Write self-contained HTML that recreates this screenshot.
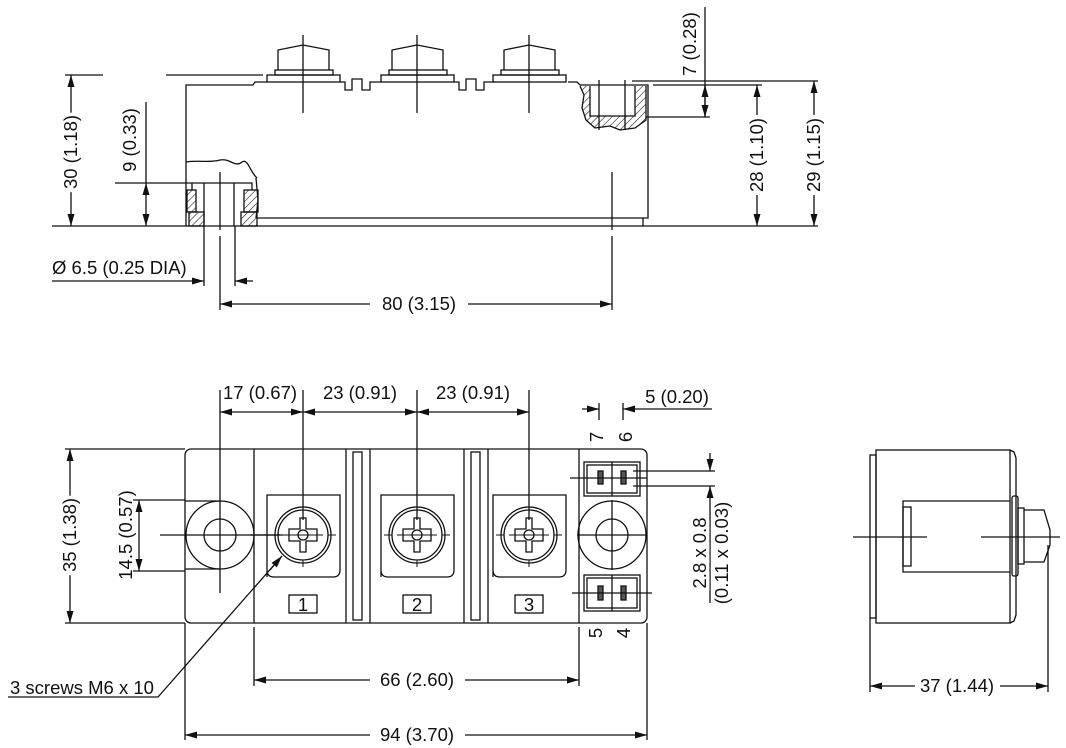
<!DOCTYPE html>
<html><head><meta charset="utf-8"><style>
html,body{margin:0;padding:0;background:#fff;}
svg{display:block;}
text{font-family:"Liberation Sans",sans-serif;font-size:18.5px;fill:#111;}
.w{paint-order:stroke;stroke:#fff;stroke-width:7px;}
</style></head><body>
<svg width="1066" height="748" viewBox="0 0 1066 748" xmlns="http://www.w3.org/2000/svg">
<defs>
<marker id="a" markerWidth="12" markerHeight="7" refX="12" refY="3.5" orient="auto" markerUnits="userSpaceOnUse">
<path d="M0,0 L12,3.5 L0,7 z" fill="#111"/></marker>
<pattern id="h" width="5" height="5" patternUnits="userSpaceOnUse" patternTransform="rotate(45)">
<line x1="0" y1="0" x2="0" y2="5" stroke="#222" stroke-width="1.2"/></pattern>
</defs>
<g stroke="#111" stroke-width="1.3" fill="none">

<path d="M186,226 L186,85 L253,85 L255,82 L267,82"/>
<path d="M340,82 L345,82 L345,90 L352,90 L352,79 L362,79 L362,90 L370,90 L370,82 L381,82"/>
<path d="M454,82 L459,82 L459,90 L466,90 L466,79 L476,79 L476,90 L484,90 L484,82 L495,82"/>
<path d="M568,82 L577,82 L580,85 L648,85 L648,218 L643,218 L643,226"/>
<line x1="257" y1="218" x2="643" y2="218"/>
<g id="term">
<path d="M278,70 L278,50 L303,45 L329,50 L329,70"/>
<rect x="275" y="70" width="58" height="5"/>
<rect x="267" y="75" width="73" height="7"/>
</g>
<use href="#term" x="114"/>
<use href="#term" x="226"/>
<line x1="303" y1="35" x2="303" y2="113"/>
<line x1="417" y1="35" x2="417" y2="113"/>
<line x1="529" y1="35" x2="529" y2="113"/>
<path d="M186,162 C200,160 210,163 220,160 C230,158 235,168 242,162 C248,158 250,172 257,178" />
<rect x="187" y="190" width="9" height="22" fill="url(#h)"/>
<rect x="189" y="212" width="15" height="14" fill="url(#h)"/>
<rect x="244" y="190" width="14" height="22" fill="url(#h)"/>
<rect x="241" y="212" width="16" height="14" fill="url(#h)"/>
<path d="M192,183 L252,183 L252,190 M192,183 L192,190"/>
<line x1="204" y1="183" x2="204" y2="226"/>
<line x1="234" y1="183" x2="234" y2="226"/>
<path d="M256,178 L258,200 L256,218" />
<path d="M580,86 L584,95 L582,108 L586,120 L595,128 L610,126 L620,130 L635,128 L646,120 L646,86" fill="url(#h)"/>
<rect x="590" y="86" width="45" height="30" fill="#fff" stroke="none"/>
<path d="M590,86 L590,116 L635,116 L635,86"/>
<line x1="599" y1="80" x2="599" y2="130"/>
<line x1="625" y1="80" x2="625" y2="130"/>
<line x1="52" y1="226" x2="818" y2="226"/>
<line x1="65" y1="75" x2="103" y2="75"/>
<line x1="166" y1="75" x2="263" y2="75"/>
<line x1="71" y1="140" x2="71" y2="75" marker-end="url(#a)"/>
<line x1="71" y1="165" x2="71" y2="226" marker-end="url(#a)"/>
<line x1="146" y1="102" x2="146" y2="183"/>
<line x1="115" y1="183" x2="192" y2="183"/>
<line x1="146" y1="205" x2="146" y2="183" marker-end="url(#a)"/>
<line x1="146" y1="205" x2="146" y2="226" marker-end="url(#a)"/>
<path d="M220,172 L220,230 M220,236 L220,246"/>
<path d="M612,172 L612,230 M612,236 L612,246"/>
<line x1="204" y1="226" x2="204" y2="286"/>
<line x1="235" y1="226" x2="235" y2="286"/>
<line x1="52" y1="281" x2="204" y2="281" marker-end="url(#a)"/>
<line x1="253" y1="281" x2="235" y2="281" marker-end="url(#a)"/>
<line x1="220" y1="246" x2="220" y2="310"/>
<line x1="612" y1="246" x2="612" y2="310"/>
<line x1="370" y1="304" x2="220" y2="304" marker-end="url(#a)"/>
<line x1="468" y1="304" x2="612" y2="304" marker-end="url(#a)"/>
<line x1="632" y1="81" x2="818" y2="81"/>
<line x1="653" y1="85" x2="762" y2="85"/>
<line x1="646" y1="117" x2="710" y2="117"/>
<line x1="705" y1="7" x2="705" y2="117"/>
<line x1="705" y1="101" x2="705" y2="85" marker-end="url(#a)"/>
<line x1="705" y1="101" x2="705" y2="117" marker-end="url(#a)"/>
<line x1="757" y1="115" x2="757" y2="85" marker-end="url(#a)"/>
<line x1="757" y1="195" x2="757" y2="226" marker-end="url(#a)"/>
<line x1="814" y1="115" x2="814" y2="81" marker-end="url(#a)"/>
<line x1="814" y1="195" x2="814" y2="226" marker-end="url(#a)"/>

<rect x="185" y="449" width="462" height="174" rx="6"/>
<line x1="254" y1="449" x2="254" y2="623"/>
<line x1="346" y1="449" x2="346" y2="623"/>
<rect x="353" y="452" width="9" height="168"/>
<line x1="370" y1="449" x2="370" y2="623"/>
<line x1="464" y1="449" x2="464" y2="623"/>
<rect x="471" y="452" width="9" height="168"/>
<line x1="488" y1="449" x2="488" y2="623"/>
<line x1="579" y1="449" x2="579" y2="623"/>
<circle cx="220" cy="535" r="34"/>
<circle cx="220" cy="535" r="16"/>
<line x1="220" y1="405" x2="220" y2="593"/>
<line x1="160" y1="535" x2="280" y2="535"/>
<line x1="133" y1="500" x2="185" y2="500"/>
<line x1="133" y1="571" x2="185" y2="571"/>
<line x1="185" y1="501" x2="220" y2="501"/>
<line x1="185" y1="569" x2="220" y2="569"/>
<g id="scr">
<path d="M267,577 L267,495 L340,495 L340,570 Q340,577 333,577 L274,577 Q267,577 267,570"/>
<circle cx="303" cy="535" r="28"/>
<circle cx="303" cy="535" r="25"/>
<path d="M300,518 L306,518 L306,529 L317,529 L317,541 L306,541 L306,552 L300,552 L300,541 L289,541 L289,529 L300,529 Z"/>
<circle cx="303" cy="535" r="5"/>
<path d="M270,535 L278,535 M283,535 L323,535 M328,535 L336,535 M303,503 L303,510 M303,560 L303,567" stroke-width="1"/>
<rect x="289" y="595" width="28" height="18"/>
</g>
<use href="#scr" x="114"/>
<use href="#scr" x="226"/>
<line x1="303" y1="405" x2="303" y2="520"/>
<line x1="417" y1="405" x2="417" y2="520"/>
<line x1="529" y1="405" x2="529" y2="520"/>
<line x1="250" y1="535" x2="283" y2="535"/>
<circle cx="612" cy="535" r="34"/>
<circle cx="612" cy="535" r="16"/>
<line x1="612" y1="500" x2="612" y2="570"/>
<line x1="577" y1="535" x2="647" y2="535"/>
<rect x="584" y="462" width="56" height="34"/>
<line x1="612" y1="462" x2="612" y2="496"/>
<rect x="587" y="465" width="50" height="28"/>
<rect x="584" y="575" width="56" height="36"/>
<line x1="612" y1="575" x2="612" y2="611"/>
<rect x="587" y="578" width="50" height="30"/>
<rect x="598" y="471" width="5" height="13" fill="#555"/>
<rect x="621" y="471" width="5" height="13" fill="#555"/>
<rect x="598" y="586" width="5" height="14" fill="#555"/>
<rect x="621" y="586" width="5" height="14" fill="#555"/>
<line x1="570" y1="478" x2="647" y2="478"/>
<line x1="572" y1="593" x2="652" y2="593"/>
<line x1="220" y1="390" x2="220" y2="405"/>
<line x1="303" y1="390" x2="303" y2="405"/>
<line x1="417" y1="390" x2="417" y2="405"/>
<line x1="529" y1="390" x2="529" y2="405"/>
<line x1="262" y1="412" x2="220" y2="412" marker-end="url(#a)"/>
<line x1="262" y1="412" x2="303" y2="412" marker-end="url(#a)"/>
<line x1="360" y1="412" x2="303" y2="412" marker-end="url(#a)"/>
<line x1="360" y1="412" x2="417" y2="412" marker-end="url(#a)"/>
<line x1="473" y1="412" x2="417" y2="412" marker-end="url(#a)"/>
<line x1="473" y1="412" x2="529" y2="412" marker-end="url(#a)"/>
<line x1="599" y1="403" x2="599" y2="420"/>
<line x1="623" y1="403" x2="623" y2="420"/>
<line x1="582" y1="409" x2="599" y2="409" marker-end="url(#a)"/>
<line x1="712" y1="409" x2="623" y2="409" marker-end="url(#a)"/>
<line x1="633" y1="471" x2="715" y2="471"/>
<line x1="633" y1="486" x2="715" y2="486"/>
<line x1="710" y1="453" x2="710" y2="471" marker-end="url(#a)"/>
<line x1="710" y1="603" x2="710" y2="486" marker-end="url(#a)"/>
<line x1="65" y1="449" x2="185" y2="449"/>
<line x1="65" y1="623" x2="185" y2="623"/>
<line x1="70" y1="500" x2="70" y2="449" marker-end="url(#a)"/>
<line x1="70" y1="570" x2="70" y2="623" marker-end="url(#a)"/>
<line x1="139" y1="535" x2="139" y2="500" marker-end="url(#a)"/>
<line x1="139" y1="535" x2="139" y2="571" marker-end="url(#a)"/>
<path d="M8,697 L158,697 L282,556" />
<line x1="270" y1="570" x2="282" y2="556" marker-end="url(#a)"/>
<line x1="254" y1="627" x2="254" y2="686"/>
<line x1="579" y1="627" x2="579" y2="686"/>
<line x1="370" y1="680" x2="254" y2="680" marker-end="url(#a)"/>
<line x1="465" y1="680" x2="579" y2="680" marker-end="url(#a)"/>
<line x1="185" y1="623" x2="185" y2="740"/>
<line x1="647" y1="623" x2="647" y2="740"/>
<line x1="370" y1="735" x2="185" y2="735" marker-end="url(#a)"/>
<line x1="465" y1="735" x2="647" y2="735" marker-end="url(#a)"/>

<rect x="870" y="455" width="6" height="163"/>
<rect x="876" y="450" width="134" height="173"/>
<path d="M1010,450 L1014,452 L1016,458 L1016,615 L1014,621 L1010,623"/>
<path d="M1010,501 L903,501 L903,572 L1010,572"/>
<rect x="903" y="507" width="8" height="59"/>
<rect x="1012" y="496" width="6" height="80" rx="2"/>
<rect x="1018" y="508" width="6" height="56"/>
<path d="M1024,510 L1044,510 L1050,530 L1050,545 L1044,562 L1024,562"/>
<line x1="853" y1="537" x2="927" y2="537"/>
<line x1="981" y1="537" x2="1060" y2="537"/>
<line x1="870" y1="618" x2="870" y2="692"/>
<line x1="1048" y1="545" x2="1048" y2="692"/>
<line x1="915" y1="686" x2="870" y2="686" marker-end="url(#a)"/>
<line x1="1000" y1="686" x2="1048" y2="686" marker-end="url(#a)"/>
</g>

<text class="w" x="71" y="152" text-anchor="middle" transform="rotate(-90 71 152)" dy="6">30 (1.18)</text>
<text x="130" y="140" text-anchor="middle" transform="rotate(-90 130 140)" dy="6">9 (0.33)</text>
<text x="52" y="274">Ø 6.5 (0.25 DIA)</text>
<text x="419" y="310" text-anchor="middle">80 (3.15)</text>
<text x="690" y="44" text-anchor="middle" transform="rotate(-90 690 44)" dy="6">7 (0.28)</text>
<text class="w" x="757" y="155" text-anchor="middle" transform="rotate(-90 757 155)" dy="6">28 (1.10)</text>
<text class="w" x="814" y="155" text-anchor="middle" transform="rotate(-90 814 155)" dy="6">29 (1.15)</text>

<text x="260" y="399" text-anchor="middle">17 (0.67)</text>
<text x="360" y="399" text-anchor="middle">23 (0.91)</text>
<text x="473" y="399" text-anchor="middle">23 (0.91)</text>
<text x="677" y="403" text-anchor="middle">5 (0.20)</text>
<text x="597" y="437" text-anchor="middle" transform="rotate(-90 597 437)" dy="6">7</text>
<text x="626" y="437" text-anchor="middle" transform="rotate(-90 626 437)" dy="6">6</text>
<text x="596" y="633" text-anchor="middle" transform="rotate(-90 596 633)" dy="6">5</text>
<text x="624" y="633" text-anchor="middle" transform="rotate(-90 624 633)" dy="6">4</text>
<text class="w" x="700" y="553" text-anchor="middle" transform="rotate(-90 700 553)" dy="6">2.8 x 0.8</text>
<text x="722" y="553" text-anchor="middle" transform="rotate(-90 722 553)" dy="6">(0.11 x 0.03)</text>
<text x="303" y="611" text-anchor="middle">1</text>
<text x="417" y="611" text-anchor="middle">2</text>
<text x="529" y="611" text-anchor="middle">3</text>
<text class="w" x="70" y="535" text-anchor="middle" transform="rotate(-90 70 535)" dy="6">35 (1.38)</text>
<text x="126" y="535" text-anchor="middle" transform="rotate(-90 126 535)" dy="6">14.5 (0.57)</text>
<text x="10" y="694">3 screws M6 x 10</text>
<text x="417" y="686" text-anchor="middle">66 (2.60)</text>
<text x="417" y="741" text-anchor="middle">94 (3.70)</text>
<text x="957" y="692" text-anchor="middle">37 (1.44)</text>
</svg>
</body></html>
